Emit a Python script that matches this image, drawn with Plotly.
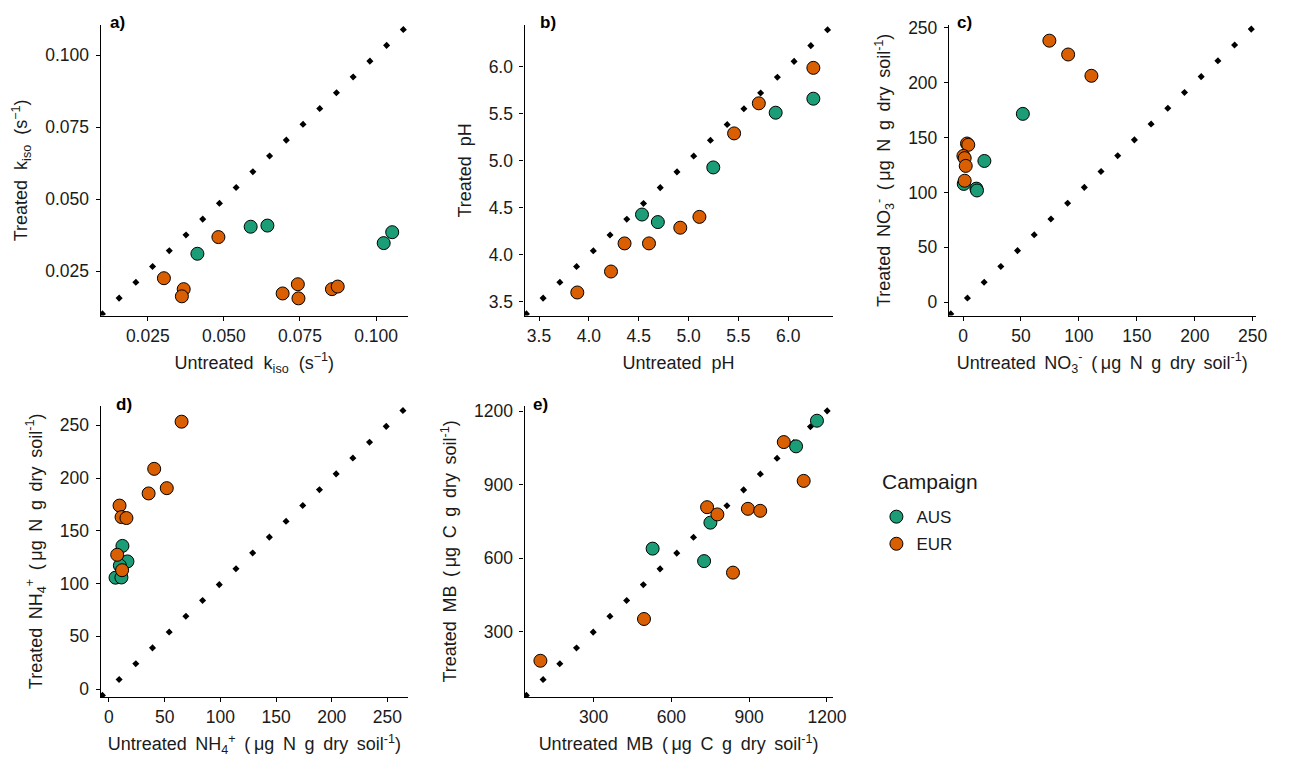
import plotly.graph_objects as go

# ---------------- data ----------------
campaigns = ["AUS", "EUR"]
campaign_colors = {"AUS": "#1B9E77", "EUR": "#D95F02"}

# a) k_iso (s^-1)
aus_k_untreated = [0.0413, 0.0588, 0.0643, 0.1025, 0.1053]
aus_k_treated = [0.0310, 0.0404, 0.0408, 0.0347, 0.0385]
eur_k_untreated = [0.0303, 0.0368, 0.0362, 0.0482, 0.0693, 0.0743, 0.0745, 0.0855, 0.0874]
eur_k_treated = [0.0225, 0.0187, 0.0162, 0.0368, 0.0172, 0.0204, 0.0155, 0.0187, 0.0196]

# b) pH
aus_ph_untreated = [4.533, 4.692, 5.248, 5.874, 6.252]
aus_ph_treated = [4.430, 4.350, 4.931, 5.513, 5.662]
eur_ph_untreated = [3.884, 4.222, 4.358, 4.603, 4.917, 5.109, 5.457, 5.705, 6.252]
eur_ph_treated = [3.601, 3.824, 4.123, 4.123, 4.290, 4.405, 5.293, 5.613, 5.990]

# c) NO3- (ug N g dry soil^-1)
aus_no3_untreated = [51.6, 18.4, 11.5, 12.0, 0.6]
aus_no3_treated = [171.6, 128.7, 103.5, 101.8, 107.8]
eur_no3_untreated = [74.5, 90.7, 110.8, 3.4, 4.5, 0.3, 1.4, 2.3, 1.4]
eur_no3_treated = [238.3, 225.7, 206.3, 144.6, 143.4, 133.3, 131.3, 124.2, 110.7]

# d) NH4+ (ug N g dry soil^-1)
aus_nh4_untreated = [12.1, 16.6, 9.8, 5.9, 11.2]
aus_nh4_treated = [135.7, 121.0, 117.1, 105.6, 105.8]
eur_nh4_untreated = [65.2, 40.6, 35.6, 51.9, 9.5, 11.3, 15.7, 7.4, 11.8]
eur_nh4_treated = [253.4, 208.7, 185.4, 190.4, 173.9, 163.0, 162.1, 127.3, 112.7]

# e) MB (ug C g dry soil^-1)
aus_mb_untreated = [527.9, 726.4, 750.7, 1081.1, 1161.7]
aus_mb_treated = [639.3, 588.3, 745.2, 1056.4, 1160.9]
eur_mb_untreated = [95.1, 494.6, 737.9, 777.6, 837.8, 895.4, 942.8, 1033.7, 1110.5]
eur_mb_treated = [182.0, 352.3, 808.3, 778.8, 541.4, 801.6, 793.5, 1073.8, 915.5]

# tick values
k_ticks = [0.025, 0.050, 0.075, 0.100]
k_ticktext = ["0.025", "0.050", "0.075", "0.100"]
ph_ticks = [3.5, 4.0, 4.5, 5.0, 5.5, 6.0]
ph_ticktext = ["3.5", "4.0", "4.5", "5.0", "5.5", "6.0"]
no3_ticks = [0, 50, 100, 150, 200, 250]
nh4_ticks = [0, 50, 100, 150, 200, 250]
mb_ticks = [300, 600, 900, 1200]

# panel tags and axis titles
tags = ["a)", "b)", "c)", "d)", "e)"]
legend_title = "Campaign"
NB = "\u00a0"
TS = "\u2009"
unit_n = f"({TS}μg{TS} N{TS} g{TS} dry{TS} soil<sup>-1</sup>)"
unit_c = f"({TS}μg{TS} C{TS} g{TS} dry{TS} soil<sup>-1</sup>)"
x_titles = [
    f"Untreated{NB} k<sub>iso</sub>{NB} (s<sup>−1</sup>)",
    f"Untreated{NB} pH",
    f"Untreated{TS} NO<sub>3</sub><sup>-</sup>{TS} " + unit_n,
    f"Untreated{TS} NH<sub>4</sub><sup>+</sup>{TS} " + unit_n,
    f"Untreated{TS} MB{TS} " + unit_c,
]
y_titles = [
    f"Treated{NB} k<sub>iso</sub>{NB} (s<sup>−1</sup>)",
    f"Treated{NB} pH",
    f"Treated{TS} NO<sub>3</sub><sup>-</sup>{TS} " + unit_n,
    f"Treated{TS} NH<sub>4</sub><sup>+</sup>{TS} " + unit_n,
    f"Treated{TS} MB{TS} " + unit_c,
]

panels = [
    dict(aus=(aus_k_untreated, aus_k_treated), eur=(eur_k_untreated, eur_k_treated),
         rng=[0.0095, 0.1105], ticks=k_ticks, ticktext=k_ticktext),
    dict(aus=(aus_ph_untreated, aus_ph_treated), eur=(eur_ph_untreated, eur_ph_treated),
         rng=[3.355, 6.445], ticks=ph_ticks, ticktext=ph_ticktext),
    dict(aus=(aus_no3_untreated, aus_no3_treated), eur=(eur_no3_untreated, eur_no3_treated),
         rng=[-12.2, 252.5], ticks=no3_ticks, ticktext=[str(v) for v in no3_ticks]),
    dict(aus=(aus_nh4_untreated, aus_nh4_treated), eur=(eur_nh4_untreated, eur_nh4_treated),
         rng=[-7.5, 268.5], ticks=nh4_ticks, ticktext=[str(v) for v in nh4_ticks]),
    dict(aus=(aus_mb_untreated, aus_mb_treated), eur=(eur_mb_untreated, eur_mb_treated),
         rng=[34, 1222], ticks=mb_ticks, ticktext=[str(v) for v in mb_ticks]),
]

# ---------------- layout geometry (pixels) ----------------
W, H = 1295, 762
col_px = [(101.7, 412.5), (530.3, 841.7), (959.3, 1269.3)]
row_px = [(18.3, 312.3), (403.5, 698.3)]
cells = [(0, 0), (0, 1), (0, 2), (1, 0), (1, 1)]
tag_px = [(109, 16), (544, 16), (965.5, 16), (115, 402), (537, 402)]

FONT = "Liberation Sans, Arial, Helvetica, sans-serif"
TXT = "#1a1a1a"

fig = go.Figure()
layout = dict(
    width=W, height=H,
    margin=dict(l=0, r=0, t=0, b=0),
    paper_bgcolor="white", plot_bgcolor="white",
    font=dict(family=FONT, color=TXT),
    showlegend=True,
    legend=dict(
        x=886 / W, y=1 - 498 / H, xanchor="left", yanchor="top",
        font=dict(size=17, family=FONT, color=TXT),
        bgcolor="rgba(0,0,0,0)", borderwidth=0,
        tracegroupgap=2, itemwidth=30,
    ),
    annotations=[dict(
        text=legend_title, x=890 / W, y=1 - 480 / H, xref="paper", yref="paper",
        xanchor="left", yanchor="middle", showarrow=False,
        font=dict(size=21, family=FONT, color=TXT),
    )],
)

for i, p in enumerate(panels):
    r, c = cells[i]
    suffix = "" if i == 0 else str(i + 1)
    xa, ya = "x" + suffix, "y" + suffix
    x0, x1 = col_px[c]
    y0, y1 = row_px[r]

    # 1:1 reference line drawn across the axis range
    fig.add_trace(go.Scatter(
        x=p["rng"], y=p["rng"], mode="lines", xaxis=xa, yaxis=ya,
        line=dict(color="black", width=5, dash="5px,18px"),
        showlegend=False, hoverinfo="skip",
    ))
    for camp in campaigns:
        xs, ys = p["aus"] if camp == "AUS" else p["eur"]
        fig.add_trace(go.Scatter(
            x=xs, y=ys, mode="markers", name=camp, xaxis=xa, yaxis=ya,
            legendgroup=camp, showlegend=(i == 0),
            marker=dict(size=13, color=campaign_colors[camp],
                        line=dict(color="black", width=1)),
        ))

    common = dict(
        range=p["rng"], showline=True, linecolor="black", linewidth=1.2,
        ticks="outside", ticklen=4, tickwidth=1.1, tickcolor="black",
        showgrid=False, zeroline=False, tickmode="array",
        tickvals=p["ticks"], ticktext=p["ticktext"],
        tickfont=dict(size=17.5, family=FONT, color=TXT),
    )
    layout["xaxis" + suffix] = dict(
        common, domain=[x0 / W, x1 / W], anchor=ya, ticklabelstandoff=0,
        title=dict(text=x_titles[i], font=dict(size=18, family=FONT, color=TXT), standoff=11),
    )
    layout["yaxis" + suffix] = dict(
        common, domain=[1 - y1 / H, 1 - y0 / H], anchor=xa, ticklabelstandoff=3,
        title=dict(text=y_titles[i], font=dict(size=18, family=FONT, color=TXT), standoff=12),
    )
    tx, ty = tag_px[i]
    layout["annotations"].append(dict(
        text=f"<b>{tags[i]}</b>", x=tx / W, y=1 - ty / H, xref="paper", yref="paper",
        xanchor="left", yanchor="middle", showarrow=False,
        font=dict(size=17, family=FONT, color="black"),
    ))

fig.update_layout(**layout)
post = "document.body.style.margin='0';document.body.style.overflow='hidden';"
fig.write_html("out.html", config={"displayModeBar": False}, post_script=post)
